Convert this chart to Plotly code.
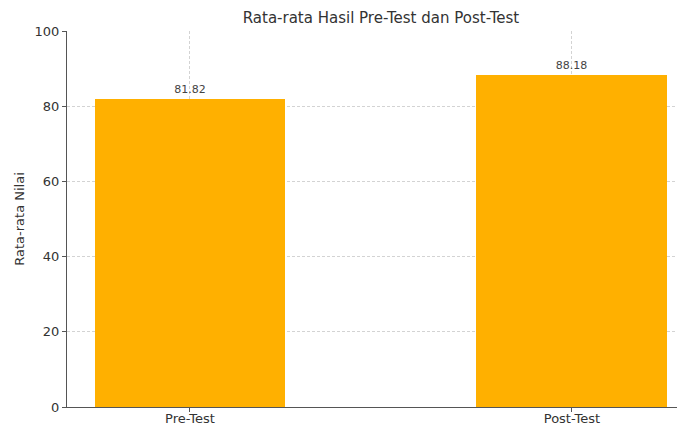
import plotly.graph_objects as go

categories = ["Pre-Test", "Post-Test"]
values = [81.82, 88.18]
value_labels = ["81.82", "88.18"]
y_ticks = [0, 20, 40, 60, 80, 100]

fig = go.Figure()
fig.add_trace(go.Bar(
    x=categories, y=values, width=0.5,
    marker=dict(color="#FFB000", line=dict(width=0)),
    text=value_labels, textposition="outside",
    textfont=dict(family="DejaVu Sans", size=11, color="#444444"),
    cliponaxis=False,
))

fig.update_layout(
    width=685, height=428,
    margin=dict(l=59, r=0, t=23, b=29, autoexpand=False),
    paper_bgcolor="white", plot_bgcolor="white",
    font=dict(family="DejaVu Sans", size=12, color="#333333"),
    title=dict(text="Rata-rata Hasil Pre-Test dan Post-Test", x=0.5445, xanchor="center",
               y=0.977, yanchor="middle",
               font=dict(family="DejaVu Sans", size=15, color="#333333")),
    showlegend=False,
    bargap=0,
)
fig.update_xaxes(
    range=[-0.322, 1.317], showline=True, linecolor="#555555", linewidth=1.2,
    ticks="outside", ticklen=4, tickcolor="#555555", automargin=False,
    showgrid=True, gridcolor="#d3d3d3", griddash="3px,2px", gridwidth=0.7,
    layer="above traces", tickfont=dict(size=13, color="#333333"),
    ticklabelstandoff=-5,
)
fig.update_yaxes(
    range=[0, 100], tickvals=y_ticks, showline=True, linecolor="#555555", linewidth=1.2,
    ticks="outside", ticklen=4, tickcolor="#555555", automargin=False,
    showgrid=True, gridcolor="#d3d3d3", griddash="3px,2px", gridwidth=0.7,
    zeroline=False, layer="above traces",
    title=dict(text="Rata-rata Nilai", font=dict(size=13, color="#333333"), standoff=6),
    tickfont=dict(size=13, color="#333333"),
)
fig.write_html("out.html")
